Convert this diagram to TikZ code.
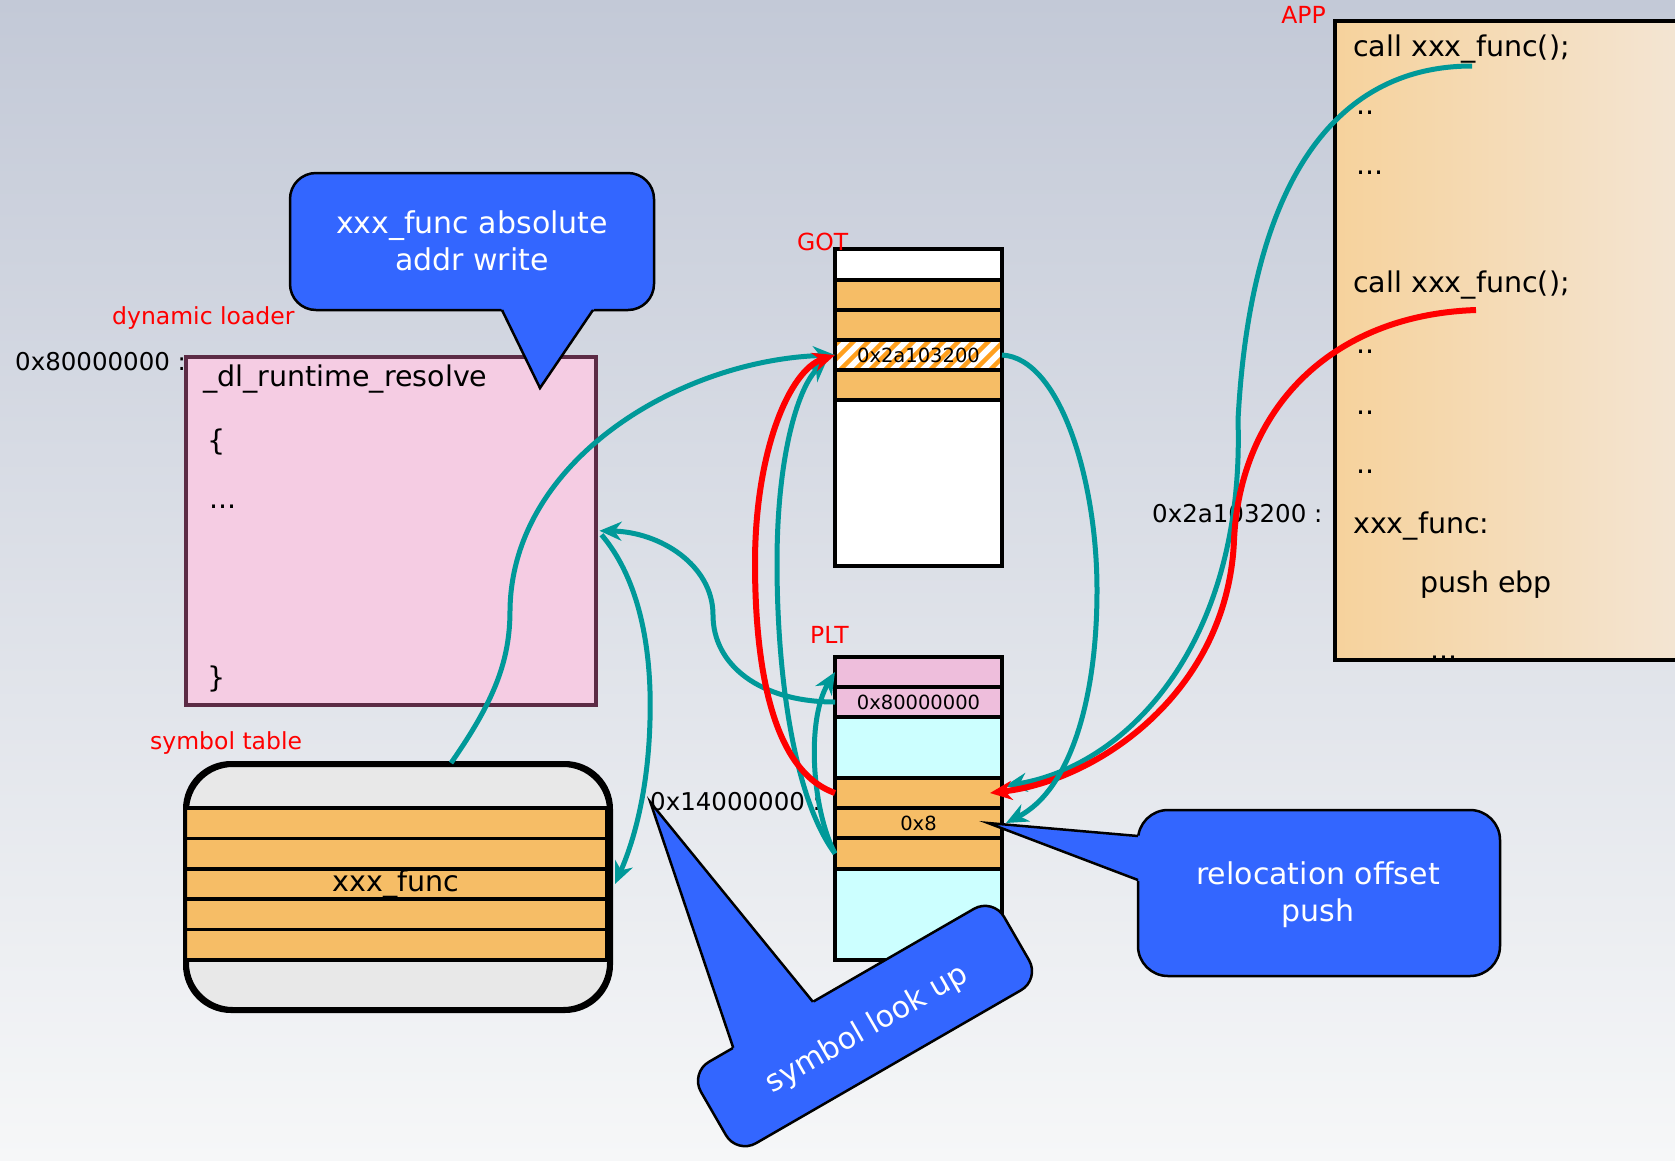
\documentclass[tikz,border=0pt]{standalone}
\usepackage{fontspec}
\setmainfont{DejaVu Sans}
\usetikzlibrary{positioning,calc,arrows.meta}

\definecolor{bgtop}{HTML}{C3C9D7}
\definecolor{bgmid}{HTML}{E9ECF1}
\definecolor{bgbot}{HTML}{F6F7F8}
\definecolor{callblue}{HTML}{3366FF}
\definecolor{linkteal}{HTML}{009999}
\definecolor{cellorange}{HTML}{F6BD66}
\definecolor{cellpink}{HTML}{EEBEDC}
\definecolor{cellcyan}{HTML}{CCFFFF}
\definecolor{loaderpink}{HTML}{F5CCE3}
\definecolor{loaderedge}{HTML}{5C2B45}
\definecolor{symgray}{HTML}{E8E8E8}
\definecolor{hatchorange}{HTML}{FFA01E}
\definecolor{appleft}{HTML}{F6D29C}
\definecolor{appright}{HTML}{F3E7D9}

\tikzset{
  code/.style={font=\fontsize{28.5}{34}\selectfont, text height=.75em, text depth=.25em, inner sep=0pt, anchor=west},
  tag/.style={text=red, font=\fontsize{23.5}{28}\selectfont, text height=.75em, text depth=.25em, inner sep=0pt, anchor=west},
  addr/.style={font=\fontsize{24.5}{29}\selectfont, text height=.75em, text depth=.25em, inner sep=0pt, anchor=west},
  cell/.style={draw, line width=3.5pt, minimum width=167pt, inner sep=0pt, outer sep=0pt, font=\fontsize{19.5}{23}\selectfont},
  symrow/.style={draw, line width=3.5pt, fill=cellorange, minimum width=422pt, minimum height=30.4pt, inner sep=0pt, outer sep=0pt,
    font=\fontsize{28.5}{34}\selectfont},
  callout/.style={draw=black, line width=2.5pt, fill=callblue},
  pointer/.style={draw=black, line width=2.5pt},
  note/.style={text=white, font=\fontsize{30}{37}\selectfont, align=center},
  link/.style={linkteal, line width=5pt, -{Stealth[length=22pt,width=19pt,inset=7pt]}},
  hot/.style={red, line width=6pt, -{Stealth[length=22pt,width=19pt,inset=7pt]}},
  hatch/.style={path picture={
    \foreach \k in {0,15,...,240}
      \draw[hatchorange, line width=4.5pt]
        ($(path picture bounding box.south west)+(\k-40,0)$) -- ++(45,-45);}},
}

\begin{document}
\begin{tikzpicture}[x=1pt, y=-1pt]
\useasboundingbox (0,0) rectangle (1675,1160);
\clip (0,0) rectangle (1675,1160);
\shade[top color=bgtop, middle color=bgmid, bottom color=bgbot] (0,0) rectangle (1675,1160);

\node[addr] (dl_addr) at (15,368) {0x80000000 :};
\node[addr] (plt_addr) at (650,808) {0x14000000 :};
\node[addr] (func_addr) at (1152,520) {0x2a103200 :};

\node[draw, line width=4pt, left color=appleft, right color=appright, anchor=north west,
      minimum width=380pt, minimum height=639pt, inner sep=0pt] (app) at (1333,19) {};
\node[code] (call_a) at (1353,54) {call xxx\_func();};
\node[code] at (1356,112) {..};
\node[code] at (1356,172) {...};
\node[code] (call_b) at (1353,290) {call xxx\_func();};
\node[code] at (1356,351) {..};
\node[code] at (1356,412) {..};
\node[code] at (1356,471) {..};
\node[code] (func_entry) at (1353,531) {xxx\_func:};
\node[code] (push_ebp) at (1420,590) {push ebp};
\node[code] at (1430,657) {...};
\coordinate (call_a_src) at (1472,66);
\coordinate (call_b_src) at (1476,310);

\node[draw=loaderedge, line width=3.5pt, fill=loaderpink, anchor=north west,
      minimum width=410pt, minimum height=348pt, inner sep=0pt] (loader) at (184,355) {};
\node[code] (resolve) at (203,384) {\_dl\_runtime\_resolve};
\node[code] at (207,448) {\{};
\node[code] at (209,506) {...};
\node[code] at (207,685) {\}};

\node[draw, line width=4pt, fill=symgray, rounded corners=46pt, anchor=north west,
      minimum width=422pt, minimum height=244pt, inner sep=0pt] (symtab) at (185,763) {};
\node[symrow, anchor=north west] (sym_1) at (185,808) {};
\node[symrow, below=0pt of sym_1] (sym_2) {};
\node[symrow, below=0pt of sym_2] (sym_3) {xxx\_func};
\node[symrow, below=0pt of sym_3] (sym_4) {};
\node[symrow, below=0pt of sym_4] (sym_5) {};
\draw[line width=4pt, rounded corners=46pt] (symtab.north west) rectangle (symtab.south east);

\node[cell, fill=white, minimum height=31pt, anchor=north west] (got_1) at (835,249) {};
\node[cell, fill=cellorange, minimum height=30pt, below=0pt of got_1] (got_2) {};
\node[cell, fill=cellorange, minimum height=30pt, below=0pt of got_2] (got_3) {};
\node[cell, fill=white, hatch, minimum height=30pt, below=0pt of got_3] (got_4) {0x2a103200};
\node[cell, fill=cellorange, minimum height=30pt, below=0pt of got_4] (got_5) {};
\node[cell, fill=white, minimum height=166pt, below=0pt of got_5] (got_6) {};

\node[cell, fill=cellpink, minimum height=30pt, anchor=north west] (plt_1) at (835,657) {};
\node[cell, fill=cellpink, minimum height=30pt, below=0pt of plt_1] (plt_2) {0x80000000};
\node[cell, fill=cellcyan, minimum height=61pt, below=0pt of plt_2] (plt_3) {};
\node[cell, fill=cellorange, minimum height=30pt, below=0pt of plt_3] (plt_4) {};
\node[cell, fill=cellorange, minimum height=30pt, below=0pt of plt_4] (plt_5) {0x8};
\node[cell, fill=cellorange, minimum height=31pt, below=0pt of plt_5] (plt_6) {};
\node[cell, fill=cellcyan, minimum height=91pt, below=0pt of plt_6] (plt_7) {};

\node[tag, anchor=east] (app_tag) at (1326,21) {APP};
\node[tag] (got_tag) at (797,248) {GOT};
\node[tag] (plt_tag) at (810,641) {PLT};
\node[tag] (loader_tag) at (112,322) {dynamic loader};
\node[tag] (symtab_tag) at (150,747) {symbol table};

\draw[link] (call_a_src) .. controls (1330,66) and (1250,190) .. (1238,420)
  .. controls (1245,640) and (1130,765) .. ($(plt_4.east)+(3,-7)$);
\draw[hot] (call_b_src) .. controls (1330,315) and (1240,410) .. (1234,540)
  .. controls (1228,690) and (1100,780) .. ($(plt_4.east)+(-12,0)$);
\draw[link] (got_4.east) .. controls (1060,358) and (1097,480) .. (1097,590)
  .. controls (1097,700) and (1070,790) .. ($(plt_5.east)+(4,0)$);
\draw[link] (plt_6.west) .. controls (795,800) and (777,680) .. (777,563)
  .. controls (777,450) and (800,385) .. ($(got_4.west)+(-8,5)$);
\draw[link] (plt_6.west) .. controls (812,810) and (806,720) .. (plt_1.west);
\draw[link] ($(symtab.north)+(53,0)$) .. controls (495,700) and (510,660) .. (510,610)
  .. controls (512,460) and (680,360) .. (got_4.west);
\draw[link] (plt_2.west) .. controls (760,702) and (713,665) .. (713,615)
  .. controls (713,565) and (660,532) .. ($(loader.east)+(2,0)$);
\draw[link] ($(loader.east)+(4,4)$) .. controls (640,580) and (652,650) .. (650,720)
  .. controls (648,800) and (630,850) .. ($(symtab.east)+(4,-3)$);
\draw[hot] (plt_4.west) .. controls (770,770) and (755,660) .. (755,563)
  .. controls (755,450) and (790,370) .. (got_4.west);

\draw[callout, rounded corners=26pt] (290,173) rectangle (654,310);
\fill[callblue] (500,306) -- (540,388) -- (596,306) -- cycle;
\draw[pointer] (502,310) -- (540,388) -- (593,310);
\node[note] (abs_write) at (472,241) {xxx\_func absolute\\addr write};

\draw[callout, rounded corners=30pt] (1138,810) rectangle (1500,976);
\fill[callblue] (1142,836) -- (988,823) -- (1142,882) -- cycle;
\draw[pointer] (1138,836) -- (988,823) -- (1138,880);
\node[note] (reloc_push) at (1318,895) {relocation offset\\push};

\begin{scope}[shift={(865,1026)}, rotate=30]
  \draw[callout, rounded corners=22pt] (-175,-47) rectangle (175,47);
  \fill[callblue] (-126,-43) -- (-74,-301) -- (-32,-43) -- cycle;
  \draw[pointer] (-125,-47) -- (-74,-301) -- (-33,-47);
  \node[note, rotate=30] (lookup) at (0,4) {symbol look up};
\end{scope}
\end{tikzpicture}
\end{document}
